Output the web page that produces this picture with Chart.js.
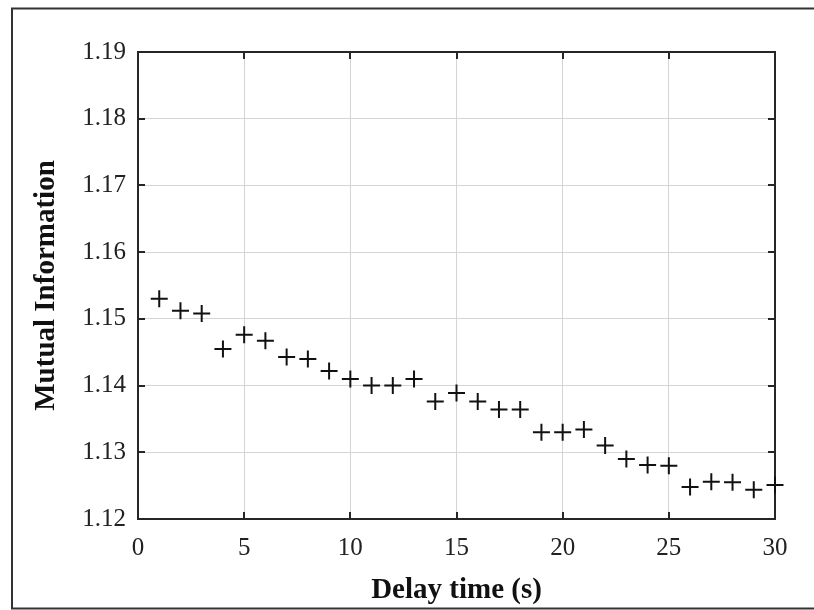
<!DOCTYPE html>
<html><head><meta charset="utf-8">
<script src="https://cdn.jsdelivr.net/npm/chart.js@4.4.1/dist/chart.umd.min.js"></script>
<style>html,body{margin:0;padding:0;background:#fff}#wrap{width:814px;height:610px;position:relative}</style>
</head><body><div id="wrap"><canvas id="c" width="814" height="610"></canvas></div>
<script>
const delayTimes = [1,2,3,4,5,6,7,8,9,10,11,12,13,14,15,16,17,18,19,20,21,22,23,24,25,26,27,28,29,30];
const mutualInfo = [1.1530,1.1512,1.1508,1.1455,1.1476,1.1467,1.1443,1.1440,1.1422,1.1410,
                    1.1400,1.1400,1.1410,1.1376,1.1389,1.1376,1.1364,1.1364,1.1330,1.1330,
                    1.1334,1.1310,1.1290,1.1281,1.1280,1.1248,1.1256,1.1255,1.1244,1.1251];
const xTicks = [0,5,10,15,20,25,30];
const yTicks = [1.12,1.13,1.14,1.15,1.16,1.17,1.18,1.19];
const xTitle = 'Delay time (s)';
const yTitle = 'Mutual Information';

const SERIF = "'Liberation Serif', 'Times New Roman', serif";

const framePlugin = {
  id: 'frame',
  beforeDraw(chart) {
    const ctx = chart.ctx;
    ctx.save();
    ctx.strokeStyle = '#333';
    ctx.lineWidth = 2;
    ctx.strokeRect(12, 8.5, 850, 600);
    ctx.restore();
  },
  beforeDatasetsDraw(chart) {
    const {ctx, chartArea: a, scales: {x, y}} = chart;
    ctx.save();
    ctx.strokeStyle = '#262626';
    ctx.lineWidth = 2;
    const tl = 7;
    ctx.beginPath();
    xTicks.forEach(v => {
      const px = Math.round(x.getPixelForValue(v));
      ctx.moveTo(px, a.bottom); ctx.lineTo(px, a.bottom - tl);
      ctx.moveTo(px, a.top); ctx.lineTo(px, a.top + tl);
    });
    yTicks.forEach(v => {
      const py = Math.round(y.getPixelForValue(v));
      ctx.moveTo(a.left, py); ctx.lineTo(a.left + tl, py);
      ctx.moveTo(a.right, py); ctx.lineTo(a.right - tl, py);
    });
    ctx.stroke();
    ctx.strokeRect(a.left, a.top, a.right - a.left, a.bottom - a.top);
    ctx.restore();
  }
};

new Chart(document.getElementById('c'), {
  type: 'scatter',
  data: {
    datasets: [{
      data: delayTimes.map((t, i) => ({x: t, y: mutualInfo[i]})),
      pointStyle: 'cross',
      pointRadius: 8.5,
      pointHoverRadius: 8.5,
      borderColor: '#111',
      backgroundColor: '#111',
      borderWidth: 2,
      clip: false
    }]
  },
  options: {
    responsive: false,
    animation: false,
    devicePixelRatio: 1,
    layout: {padding: {top: 52, right: 39, left: 0, bottom: 0}},
    plugins: {legend: {display: false}, tooltip: {enabled: false}},
    scales: {
      x: {
        type: 'linear', min: 0, max: 30,
        afterBuildTicks: s => { s.ticks = xTicks.map(v => ({value: v})); },
        afterFit: s => { s.height = 91; },
        ticks: {color: '#222', padding: 14, font: {family: SERIF, size: 25}, callback: v => String(v)},
        grid: {color: '#d4d4d4', lineWidth: 1, drawTicks: false},
        border: {display: false},
        title: {display: true, text: xTitle, color: '#111', padding: {top: 0, bottom: 2},
                font: {family: SERIF, size: 29, weight: 'bold'}}
      },
      y: {
        type: 'linear', min: 1.12, max: 1.19,
        afterBuildTicks: s => { s.ticks = yTicks.map(v => ({value: v})); },
        afterFit: s => { s.width = 138; },
        ticks: {color: '#222', padding: 12, font: {family: SERIF, size: 25}, callback: v => v.toFixed(2)},
        grid: {color: '#d4d4d4', lineWidth: 1, drawTicks: false},
        border: {display: false},
        title: {display: true, text: yTitle, color: '#111', padding: {top: 29, bottom: 0},
                font: {family: SERIF, size: 29, weight: 'bold'}}
      }
    }
  },
  plugins: [framePlugin]
});
</script></body></html>
